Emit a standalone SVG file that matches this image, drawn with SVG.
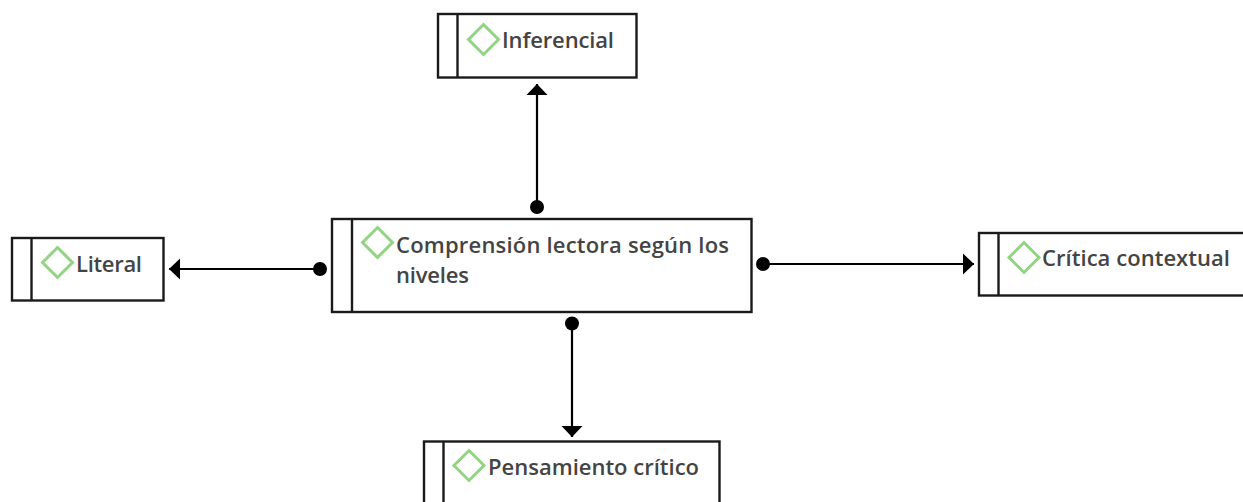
<svg xmlns="http://www.w3.org/2000/svg" width="1243" height="502" viewBox="0 0 1243 502">
<style>
.box{fill:#fff;stroke:#1a1a1a;stroke-width:2.4}
.div{stroke:#1a1a1a;stroke-width:2.4;fill:none}
.dia{fill:none;stroke:#92d384;stroke-width:3}
.lbl{font-family:"Open Sans","Noto Sans",sans-serif;font-weight:600;font-size:22px;fill:#444}
.con{stroke:#000;stroke-width:2.2;fill:none;marker-end:url(#arr);marker-start:url(#dot)}
</style>
<defs>
<marker id="arr" markerUnits="userSpaceOnUse" markerWidth="12" markerHeight="24" refX="11" refY="12" orient="auto"><path d="M0 1.5L11 12L0 22.5Z" fill="#000"/></marker>
<marker id="dot" markerUnits="userSpaceOnUse" markerWidth="15" markerHeight="15" refX="7.5" refY="7.5" orient="auto"><circle cx="7.5" cy="7.5" r="7" fill="#000"/></marker>
</defs>
<rect width="1243" height="502" fill="#fff"/>
<g id="connectors">
<path class="con" d="M537 207V84"/>
<path class="con" d="M320 269H169"/>
<path class="con" d="M763 264H974"/>
<path class="con" d="M572 323.500V437"/>
</g>
<g id="node-main">
<rect class="box" x="332" y="219" width="419.500" height="93"/>
<path class="div" d="M352 219V312"/>
<path class="dia" d="M377.500 227.500L392.500 242.500L377.500 257.500L362.500 242.500Z"/>
<text class="lbl" x="396" y="253" textLength="333">Comprensión lectora según los</text>
<text class="lbl" x="396" y="283" textLength="73">niveles</text>
</g>
<g id="node-inferencial">
<rect class="box" x="438" y="14" width="198.500" height="63.500"/>
<path class="div" d="M457.500 14V77"/>
<path class="dia" d="M483.500 24.500L498.500 39.500L483.500 54.500L468.500 39.500Z"/>
<text class="lbl" x="502" y="48" textLength="112">Inferencial</text>
</g>
<g id="node-literal">
<rect class="box" x="12" y="238" width="151.500" height="62.500"/>
<path class="div" d="M31.500 238V300"/>
<path class="dia" d="M57.500 247.500L72.500 262.500L57.500 277.500L42.500 262.500Z"/>
<text class="lbl" x="76" y="272" textLength="66">Literal</text>
</g>
<g id="node-critica">
<rect class="box" x="979" y="233" width="270" height="62.500"/>
<path class="div" d="M998.500 233V295"/>
<path class="dia" d="M1024 242.500L1039 257.500L1024 272.500L1009 257.500Z"/>
<text class="lbl" x="1042" y="266" textLength="188">Crítica contextual</text>
</g>
<g id="node-pensamiento">
<rect class="box" x="424" y="441.500" width="295.500" height="70"/>
<path class="div" d="M443.500 441V502"/>
<path class="dia" d="M469 450.500L484 465.500L469 480.500L454 465.500Z"/>
<text class="lbl" x="488" y="475" textLength="211">Pensamiento crítico</text>
</g>
</svg>
